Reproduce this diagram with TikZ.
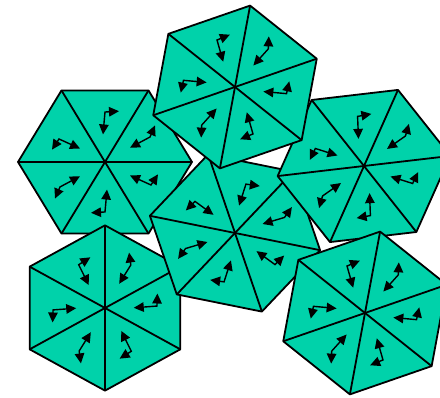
\documentclass[tikz,border=0pt]{standalone}
\usepackage{tikz}
\usetikzlibrary{arrows.meta}
\definecolor{tilegreen}{RGB}{0,210,170}
\tikzset{
  tile/.style={fill=tilegreen},
  edge/.style={line width=1.8pt, line join=round},
  glyph/.style={line width=1.4pt, {Triangle[length=10pt,width=9.5pt]}-{Triangle[length=10pt,width=9.5pt]}},
}
% three arrow glyphs of one half of a hexagon
\newcommand{\halfglyphs}{%
  \draw[glyph] (14,53.5) -- (0,52.6) -- (-2,29);
  \draw[glyph] (50,38.5) -- (45,26.3) -- (25,15);
  \draw[glyph] (-53,13) -- (-46,24.2) -- (-25,14.2);
}
% hexagon of six triangles: centre x, centre y, rotation
\newcommand{\hexa}[3]{%
  \begin{scope}[shift={(#1,#2)}, yscale=0.95, rotate=#3]
    \fill[tile] (0:87) -- (60:87) -- (120:87) -- (180:87) -- (240:87) -- (300:87) -- cycle;
    \foreach \a in {0,60,...,300} \draw[edge] (0,0) -- (\a:87);
    \draw[edge] (0:87) -- (60:87) -- (120:87) -- (180:87) -- (240:87) -- (300:87) -- cycle;
    \foreach \r in {0,180} {
      \begin{scope}[rotate=\r] \halfglyphs \end{scope}
    }
  \end{scope}}

\begin{document}
\begin{tikzpicture}[x=1pt,y=1pt]
  \useasboundingbox (0,0) rectangle (440,398);
  \clip (0,0) rectangle (440,398);
  % --- lower hexagons ---
  \hexa{105}{236}{0}
  \hexa{105}{90}{30}
  % --- middle ---
  \hexa{235}{165}{-12}
  \hexa{364}{232}{7}
  \hexa{365}{85}{20}
  % --- top ---
  \hexa{235}{311}{20}
\end{tikzpicture}
\end{document}
